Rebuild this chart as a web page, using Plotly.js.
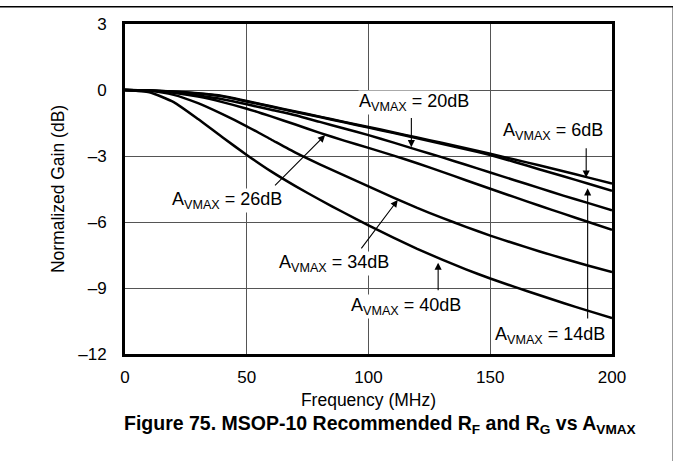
<!DOCTYPE html>
<html>
<head>
<meta charset="utf-8">
<script src="https://cdn.plot.ly/plotly-3.0.1.min.js"></script>
<style>html,body{margin:0;padding:0;background:#fff;}#chart{width:673px;height:461px;}</style>
</head>
<body>
<div id="chart"></div>
<script>
// Frequency (MHz)
const freq = [0, 10, 20, 30, 40, 50, 60, 70, 80, 90, 100, 110, 120, 130, 140, 150, 160, 170, 180, 190, 200];
// Normalized gain (dB) per A_VMAX setting
const gain6dB  = [0, -0.02, -0.07, -0.15, -0.27, -0.50, -0.74, -0.98, -1.21, -1.45, -1.68, -1.92, -2.16, -2.40, -2.65, -2.90, -3.16, -3.42, -3.69, -3.97, -4.25];
const gain14dB = [0, -0.02, -0.08, -0.16, -0.29, -0.52, -0.76, -1.00, -1.23, -1.47, -1.71, -1.95, -2.19, -2.44, -2.69, -2.96, -3.27, -3.60, -3.92, -4.25, -4.58];
const gain20dB = [0, -0.02, -0.10, -0.25, -0.42, -0.65, -0.90, -1.15, -1.45, -1.75, -2.05, -2.38, -2.72, -3.05, -3.40, -3.75, -4.10, -4.45, -4.80, -5.13, -5.47];
const gain26dB = [0, -0.02, -0.12, -0.30, -0.55, -0.85, -1.20, -1.57, -1.95, -2.30, -2.63, -2.97, -3.33, -3.71, -4.10, -4.49, -4.87, -5.25, -5.62, -5.99, -6.35];
const gain34dB = [0, -0.04, -0.22, -0.60, -1.10, -1.65, -2.25, -2.85, -3.38, -3.88, -4.38, -4.88, -5.36, -5.80, -6.22, -6.62, -6.98, -7.33, -7.66, -7.98, -8.28];
const gain40dB = [0, -0.10, -0.55, -1.32, -2.15, -2.95, -3.70, -4.37, -4.99, -5.58, -6.15, -6.70, -7.22, -7.70, -8.15, -8.57, -8.95, -9.32, -9.68, -10.03, -10.37];

const xTicks = [0, 50, 100, 150, 200];
const yTicks = [3, 0, -3, -6, -9, -12];
const yTickText = ['3', '0', '\u20133', '\u20136', '\u20139', '\u201312'];

// Labels: [text, x, y]
const labelText = ['20dB', '6dB', '14dB', '26dB', '34dB', '40dB'];
const labelX = [118.5, 175.6, 174.7, 41.7, 86, 115.2];
const labelY = [-0.55, -1.9, -11.14, -5.0, -7.88, -9.85];
// Arrows: tip (x,y) and tail (x,y)
const arrowTipX = [117.6, 189.4, 190, 82.2, 112, 128.6];
const arrowTipY = [-2.6, -3.98, -4.47, -2.05, -5.0, -7.85];
const arrowTailX = [117.6, 189.4, 190, 61.0, 96.6, 128.6];
const arrowTailY = [-1.2, -2.58, -10.45, -4.4, -7.27, -9.17];

const series = [gain6dB, gain14dB, gain20dB, gain26dB, gain34dB, gain40dB];
const names = ['6dB', '14dB', '20dB', '26dB', '34dB', '40dB'];

const FONT = 'Liberation Sans, Arial, Helvetica, sans-serif';

const traces = series.map((s, i) => ({
  x: freq, y: s, type: 'scatter', mode: 'lines', name: names[i],
  line: {color: '#000', width: 2.5, shape: 'spline', smoothing: 0.5},
  hoverinfo: 'skip'
}));

const annotations = [];
labelText.forEach((t, i) => {
  annotations.push({
    x: labelX[i], y: labelY[i], xref: 'x', yref: 'y',
    text: 'A<sub>VMAX</sub> = ' + t, showarrow: false,
    font: {family: FONT, size: 18, color: '#000'},
    bgcolor: '#fff', borderpad: 0
  });
  annotations.push({
    x: arrowTipX[i], y: arrowTipY[i], xref: 'x', yref: 'y',
    ax: arrowTailX[i], ay: arrowTailY[i], axref: 'x', ayref: 'y',
    text: '', showarrow: true, arrowhead: 2, arrowsize: 1.3, arrowwidth: 1.1,
    arrowcolor: '#000', standoff: 0, startstandoff: 0
  });
});
annotations.push({
  x: 0.524, y: -0.215, xref: 'paper', yref: 'paper', xanchor: 'center', yanchor: 'middle',
  text: '<b>Figure 75. MSOP-10 Recommended R<sub>F</sub> and R<sub>G</sub> vs A<sub>VMAX</sub></b>',
  showarrow: false, font: {family: FONT, size: 19.5, color: '#000'}
});

const layout = {
  width: 673, height: 461,
  margin: {l: 125, r: 61, t: 24, b: 107},
  paper_bgcolor: '#fff', plot_bgcolor: '#fff',
  showlegend: false,
  font: {family: FONT, size: 17, color: '#000'},
  xaxis: {
    range: [0, 200], tickvals: xTicks, ticktext: xTicks.map(String),
    showgrid: true, gridcolor: '#555', gridwidth: 1,
    showline: true, mirror: true, linecolor: '#000', linewidth: 3,
    zeroline: false, ticks: '', ticklabelstandoff: 6,
    tickfont: {family: FONT, size: 17},
    title: {text: 'Frequency (MHz)', standoff: 8, font: {family: FONT, size: 17.5}}
  },
  yaxis: {
    range: [-12, 3], tickvals: yTicks, ticktext: yTickText,
    showgrid: true, gridcolor: '#555', gridwidth: 1,
    showline: true, mirror: true, linecolor: '#000', linewidth: 3,
    zeroline: false, ticks: '', ticklabelstandoff: 12,
    tickfont: {family: FONT, size: 17},
    title: {text: 'Normalized Gain (dB)', standoff: 10, font: {family: FONT, size: 17.5}}
  },
  shapes: [
    {type: 'line', xref: 'paper', yref: 'paper', x0: -0.26, x1: 1.126, y0: 1.052, y1: 1.052,
     line: {color: '#000', width: 1.5}},
    {type: 'line', xref: 'paper', yref: 'paper', x0: 1.126, x1: 1.126, y0: 1.052, y1: -0.34,
     line: {color: '#000', width: 1.5}}
  ],
  annotations: annotations
};

Plotly.newPlot('chart', traces, layout, {displayModeBar: false, staticPlot: true});
</script>
</body>
</html>
